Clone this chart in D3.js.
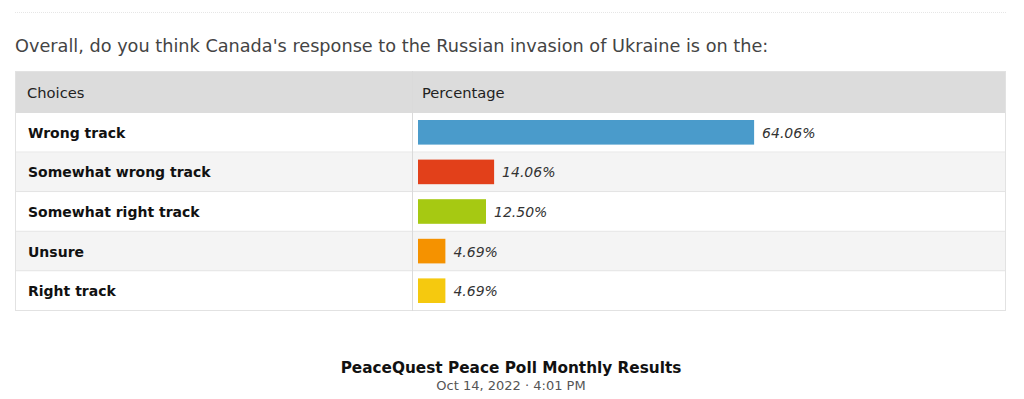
<!DOCTYPE html>
<html>
<head>
<meta charset="utf-8">
<script src="https://cdn.jsdelivr.net/npm/d3@7"></script>
<style>
  body { margin: 0; background: #fff; }
  svg text { font-family: "DejaVu Sans", sans-serif; }
</style>
</head>
<body>
<div id="chart"></div>
<script>
// poll results
const question = "Overall, do you think Canada's response to the Russian invasion of Ukraine is on the:";
const choices = ["Wrong track", "Somewhat wrong track", "Somewhat right track", "Unsure", "Right track"];
const percents = [64.06, 14.06, 12.50, 4.69, 4.69];
const colors = ["#4a9bcb", "#e2401a", "#a6c912", "#f59200", "#f5c90f"];
const headers = ["Choices", "Percentage"];
const footTitle = "PeaceQuest Peace Poll Monthly Results";
const footDate = "Oct 14, 2022 \u00b7 4:01 PM";

const W = 1024, H = 399;
const left = 15, right = 1006, split = 412;
const headTop = 71, headH = 42, rowH = 39.6;

const svg = d3.select("#chart").append("svg")
    .attr("width", W).attr("height", H);

// thin separator on top
svg.append("line")
    .attr("x1", left).attr("x2", right)
    .attr("y1", 12.5).attr("y2", 12.5)
    .style("stroke", "#e6e6e6").style("stroke-dasharray", "1,1");

svg.append("text")
    .attr("x", left).attr("y", 52)
    .style("font-size", "17.7px").style("fill", "#444")
    .text(question);

const y = d3.scaleBand()
    .domain(choices)
    .range([headTop + headH, headTop + headH + rowH * choices.length]);

const x = d3.scaleLinear().domain([0, 100]).range([3, 523]);

// header
svg.append("rect")
    .attr("x", left).attr("y", headTop)
    .attr("width", right - left).attr("height", headH)
    .style("fill", "#dcdcdc");
svg.selectAll(".head")
    .data(headers)
    .enter()
    .append("text")
    .attr("x", (d, i) => i === 0 ? 27 : 422)
    .attr("y", headTop + 27)
    .style("font-size", "14.7px").style("fill", "#222")
    .text(d => d);

// rows
const rows = svg.selectAll(".row")
    .data(choices)
    .enter()
    .append("g")
    .attr("transform", d => `translate(0,${y(d)})`);

rows.append("rect")
    .attr("x", left).attr("y", 0)
    .attr("width", right - left).attr("height", y.bandwidth())
    .style("fill", (d, i) => i % 2 ? "#f4f4f4" : "#fff");

rows.append("line")
    .attr("x1", left).attr("x2", right)
    .attr("y1", y.bandwidth() - 0.5).attr("y2", y.bandwidth() - 0.5)
    .style("stroke", "#e0e0e0");

rows.append("text")
    .attr("x", 28).attr("y", y.bandwidth() / 2 + 5)
    .style("font-size", "14px").style("font-weight", "bold").style("fill", "#111")
    .text(d => d);

rows.append("rect")
    .attr("x", 418).attr("y", 7)
    .attr("width", (d, i) => x(percents[i]))
    .attr("height", y.bandwidth() - 15)
    .style("fill", (d, i) => colors[i]);

rows.append("text")
    .attr("x", (d, i) => 418 + x(percents[i]) + 8)
    .attr("y", y.bandwidth() / 2 + 5)
    .style("font-size", "14px").style("font-style", "italic").style("fill", "#333")
    .text((d, i) => percents[i].toFixed(2) + "%");

// table borders
const tableBottom = y.range()[1];
svg.append("rect")
    .attr("x", left + 0.5).attr("y", headTop + 0.5)
    .attr("width", right - left - 1).attr("height", tableBottom - headTop - 1)
    .style("fill", "none").style("stroke", "#e2e2e2");
svg.append("line")
    .attr("x1", split + 0.5).attr("x2", split + 0.5)
    .attr("y1", headTop).attr("y2", tableBottom)
    .style("stroke", "#dadada");

// footer
svg.append("text")
    .attr("x", 511).attr("y", 373)
    .attr("text-anchor", "middle")
    .style("font-size", "15.3px").style("font-weight", "bold").style("fill", "#111")
    .text(footTitle);
svg.append("text")
    .attr("x", 511).attr("y", 390)
    .attr("text-anchor", "middle")
    .style("font-size", "13px").style("fill", "#555")
    .text(footDate);
</script>
</body>
</html>
